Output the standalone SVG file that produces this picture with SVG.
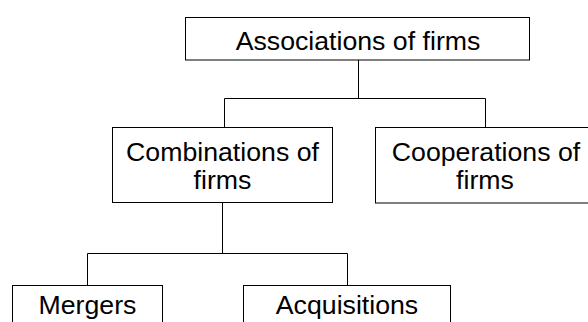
<svg xmlns="http://www.w3.org/2000/svg" width="588" height="322" viewBox="0 0 588 322">
<style>
.box{fill:#fff;stroke:#000;stroke-width:1}
.lbl{font-family:"Liberation Sans",Arial,sans-serif;font-size:26.7px;fill:#000;text-anchor:middle}
.con{fill:none;stroke:#000;stroke-width:1}
</style>
<rect width="588" height="322" fill="#fff"/>
<g id="connectors">
<path class="con" d="M358.5 60 V98.5 M224.5 98.5 H485.5 M224.5 98.5 V127.5 M485.5 98.5 V127.5"/>
<path class="con" d="M222.5 202.5 V253.5 M87.5 253.5 H347.5 M87.5 253.5 V285.5 M347.5 253.5 V285.5"/>
</g>
<g id="associations">
<rect class="box" x="185.5" y="17.5" width="344" height="42.5"/>
<text class="lbl" x="358" y="49.5">Associations of firms</text>
</g>
<g id="combinations">
<rect class="box" x="112.5" y="127.5" width="220" height="75"/>
<text class="lbl" x="222.5" y="161">Combinations of</text>
<text class="lbl" x="222.5" y="188.5">firms</text>
</g>
<g id="cooperations">
<rect class="box" x="375.5" y="127.5" width="220" height="75.5"/>
<text class="lbl" x="486" y="161">Cooperations of</text>
<text class="lbl" x="485" y="188.5">firms</text>
</g>
<g id="mergers">
<rect class="box" x="12.5" y="285.5" width="150" height="50"/>
<text class="lbl" x="87.5" y="313.5">Mergers</text>
</g>
<g id="acquisitions">
<rect class="box" x="243.5" y="285.5" width="207" height="50"/>
<text class="lbl" x="347" y="314">Acquisitions</text>
</g>
</svg>
